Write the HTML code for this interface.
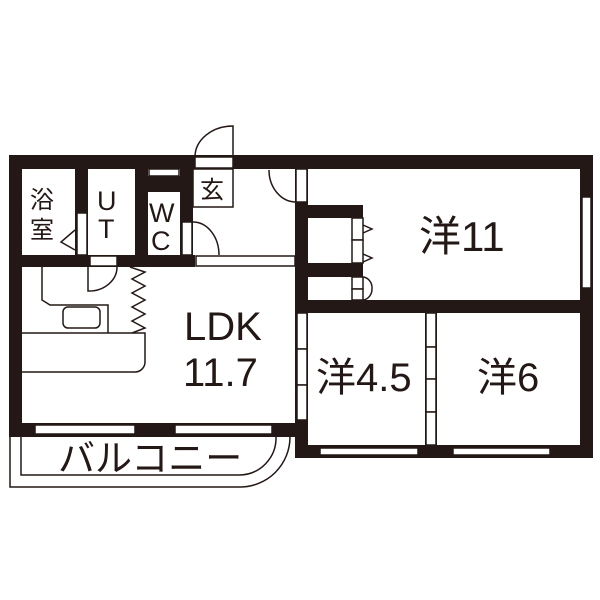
<!DOCTYPE html><html><head><style>body{margin:0;background:#fff}svg{display:block}text{font-family:"Liberation Sans","Noto Sans CJK JP",sans-serif;fill:#231815}</style></head><body>
<svg width="600" height="600" viewBox="0 0 600 600" xmlns="http://www.w3.org/2000/svg">
<g fill="#231815">
<rect x="9" y="155" width="584" height="14"/>
<rect x="9" y="155" width="13" height="282"/>
<rect x="580" y="155" width="13" height="303"/>
<rect x="9" y="423" width="299" height="14"/>
<rect x="295" y="445" width="298" height="13"/>
<rect x="295" y="155" width="13" height="303"/>
<rect x="295" y="300" width="298" height="13"/>
<rect x="295" y="205" width="68" height="13"/>
<rect x="295" y="263" width="68" height="14"/>
<rect x="75" y="155" width="13" height="112"/>
<rect x="135" y="155" width="13" height="112"/>
<rect x="180" y="155" width="13" height="100"/>
<rect x="9" y="255" width="186" height="12"/>
<rect x="148" y="176" width="32" height="16"/>
<rect x="425" y="300" width="12" height="158"/>
</g>
<g fill="#fff" stroke="#231815" stroke-width="1.5">
<rect x="296" y="169" width="11" height="33"/>
<rect x="195" y="157" width="38" height="11"/>
<rect x="149" y="169" width="30" height="7"/>
<rect x="193" y="169" width="40" height="38" fill="none"/>
<rect x="182" y="222" width="10" height="33"/>
<rect x="77" y="213" width="10" height="42"/>
<rect x="90" y="256" width="27" height="10"/>
<rect x="196" y="256" width="99" height="10"/>
<rect x="352" y="218" width="11" height="22"/><rect x="352" y="240" width="11" height="23"/>
<rect x="352" y="277" width="11" height="12"/><rect x="352" y="289" width="11" height="11"/>
<rect x="582" y="197" width="9" height="91"/>
<rect x="297" y="313" width="10" height="36"/><rect x="297" y="349" width="10" height="36"/><rect x="297" y="385" width="10" height="35"/>
<rect x="426" y="313" width="10" height="34"/><rect x="426" y="347" width="10" height="32"/><rect x="426" y="379" width="10" height="33"/><rect x="426" y="412" width="10" height="33"/>
<rect x="320" y="448" width="98" height="7"/><rect x="453" y="448" width="97" height="7"/>
<rect x="35" y="425" width="100" height="9"/><rect x="175" y="425" width="97" height="9"/>
</g>
<g fill="none" stroke="#231815" stroke-width="1.5">
<path d="M195 157 A38 31 0 0 1 233 126 V157"/>
<path d="M269 170 A27 32 0 0 0 296 202"/>
<path d="M193 222 A26 33 0 0 1 219 255"/>
<path d="M117 267 A28 24 0 0 1 88 291 V267"/>
<path d="M75 230 L61 242 L75 250"/>
<path d="M363 225 L372 229 L363 233 M363 254 L372 258 L363 262"/>
<path d="M363 277 A10 11 0 0 1 372 289 A10 11 0 0 1 363 300"/>
<path d="M42 267 V300 L50 305 H108 V333"/>
<path d="M22 333 H145 V362 A10 10 0 0 1 135 372 H22"/>
<rect x="63" y="307" width="37" height="21" rx="5"/>
<path d="M130 267 L145 272 L132 279 L145 286 L132 293 L145 300 L132 307 L145 314 L132 321 L145 328 L132 333"/>
<path d="M10 437 V487 H240 A50 50 0 0 0 290 437"/>
<path d="M21 437 V475 H240 A37 37 0 0 0 276 437"/>
</g>
<text x="30" y="208" font-size="24">浴</text>
<text x="30" y="238" font-size="24">室</text>
<text x="97" y="210" font-size="27">U</text>
<text x="98" y="238" font-size="27">T</text>
<text x="149" y="222" font-size="27">W</text>
<text x="151" y="250" font-size="27">C</text>
<text x="200" y="198" font-size="24">玄</text>
<text x="419" y="251" font-size="42">洋11</text>
<text x="316" y="391" font-size="40">洋4.5</text>
<text x="477" y="391" font-size="40">洋6</text>
<text x="184" y="340" font-size="40">LDK</text>
<text x="183" y="386" font-size="40">11.7</text>
<text x="58" y="471" font-size="37">バルコニー</text>
</svg></body></html>
